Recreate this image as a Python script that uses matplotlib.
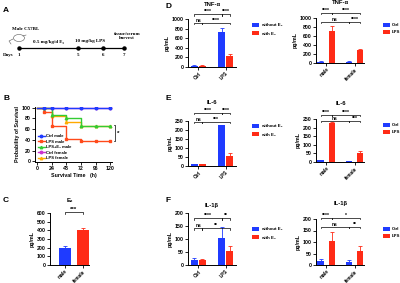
import matplotlib
matplotlib.use('Agg')
import matplotlib.pyplot as plt
import numpy as np
from matplotlib.patches import Ellipse

plt.rcParams['font.family'] = ['Liberation Sans', 'DejaVu Sans']
plt.rcParams['font.weight'] = 'bold'
plt.rcParams['axes.linewidth'] = 0.7

# ---------------- data ----------------
days = [1, 5, 6, 7]
timeline_x = [19, 78, 103, 124]          # layout positions of the day marks (px)

surv_t = [0, 12, 24, 48, 72, 96, 120]
ctrl_male = [100, 100, 100, 100, 100, 100, 100]
lps_male = [100, 92, 65, 42, 38, 38, 38]
lps_e2_male = [100, 100, 87, 80, 65, 65, 65]
ctrl_female = [100, 100, 100, 100, 100, 100, 100]
lps_female = [100, 100, 85, 73, 65, 65, 65]
surv_ticks = [0, 24, 48, 72, 96, 120]

e2_groups = ['male', 'female']
e2_vals = [200, 400]
e2_err = [25, 28]

trt_groups = ['Ctrl', 'LPS']
sex_groups = ['male', 'female']

tnf_wo = [30, 720]; tnf_wo_err = [8, 100]
tnf_w = [30, 230]; tnf_w_err = [8, 40]
tnf_ctrl = [30, 30]; tnf_ctrl_err = [8, 8]
tnf_lps = [720, 280]; tnf_lps_err = [110, 40]

il6_wo = [10, 225]; il6_wo_err = [3, 5]
il6_w = [10, 55]; il6_w_err = [3, 20]
il6_ctrl = [10, 5]; il6_ctrl_err = [3, 2]
il6_lps = [225, 50]; il6_lps_err = [5, 15]

il1_wo = [18, 105]; il1_wo_err = [8, 40]
il1_w = [18, 55]; il1_w_err = [6, 18]
il1_ctrl = [18, 15]; il1_ctrl_err = [8, 8]
il1_lps = [105, 62]; il1_lps_err = [38, 22]

BLUE = '#1f3bff'
RED = '#ff2b16'

W, H = 400, 283
fig = plt.figure(figsize=(4, 2.83), dpi=100)


def px_axes(x0, y0, x1, y1):
    return fig.add_axes([x0 / W, 1 - y1 / H, (x1 - x0) / W, (y1 - y0) / H])


def style(ax):
    for s in ['top', 'right']:
        ax.spines[s].set_visible(False)
    ax.tick_params(labelsize=3.7, length=2, width=0.6, pad=1)
    ax.tick_params(axis='x', labelsize=3.4, pad=0.8)
    for lab in ax.get_xticklabels() + ax.get_yticklabels():
        lab.set_fontweight('bold')


def letter(x, y, s):
    fig.text(x / W, 1 - y / H, s, fontsize=6, fontweight='bold', ha='left', va='center')


def bracket(ax, x1, x2, y, h, txt, fs=3.6):
    ax.plot([x1, x1, x2, x2], [y - h, y, y, y - h], color='black', lw=0.5, clip_on=False)
    ax.text((x1 + x2) / 2, y, txt, ha='center', va='bottom', fontsize=fs, fontweight='bold')


def up_err(ax, x, y, e, col):
    ax.errorbar(x, y, yerr=[np.zeros(len(y)), e], fmt='none', ecolor=col,
                capsize=1.2, elinewidth=0.6, capthick=0.6)


# ---------------- A ----------------
letter(3, 10, 'A')
axA = px_axes(0, 15, 165, 65)
axA.set_xlim(0, 165)
axA.set_ylim(65, 15)
axA.axis('off')
axA.plot([timeline_x[0], timeline_x[-1]], [48, 48], color='black', lw=0.9)
axA.plot(timeline_x, [48] * len(timeline_x), 'o', color='black', ms=2.2)
serif = dict(family=['Liberation Serif', 'DejaVu Serif'], fontweight='bold', fontsize=3.6)
for xp, d in zip(timeline_x, days):
    axA.text(xp, 55, str(d), ha='center', va='center', **serif)
axA.text(3, 55, 'Days', ha='left', va='center', **serif)
axA.text(12, 29, 'Male C57BL', ha='left', va='center', **serif)
axA.add_patch(Ellipse((19, 38), 11, 7, fill=False, lw=0.4, color='#555555'))
axA.plot([13, 9, 11], [39, 41, 44], color='#555555', lw=0.4)
axA.plot([23, 26], [36, 35], color='#555555', lw=0.4)
axA.text(48.5, 42, '0.5 mg/kg/d E₂', ha='center', va='center', **serif)
axA.text(90, 41, '10 mg/kg LPS', ha='center', va='center', **serif)
axA.text(127, 36, 'tissue/serum\nharvest', ha='center', va='center', linespacing=1.1, **serif)

# ---------------- B ----------------
letter(3, 99, 'B')
axB = px_axes(35, 107, 112, 162)
series = [
    ('Ctrl female', ctrl_female, '#cc33cc', 'o'),
    ('LPS female', lps_female, '#ffaa00', '^'),
    ('LPS male', lps_male, '#ff4a1a', 's'),
    ('LPS+E₂ male', lps_e2_male, '#33cc33', '^'),
    ('Ctrl male', ctrl_male, BLUE, 'o'),
]
handles = {}
for name, vals, col, mk in series:
    l, = axB.plot(surv_t, vals, drawstyle='steps-post', color=col, lw=1.0,
                  marker=mk, ms=1.8, markevery=list(range(1, len(surv_t))), label=name)
    handles[name] = l
order = ['Ctrl male', 'LPS male', 'LPS+E₂ male', 'Ctrl female', 'LPS female']
axB.legend([handles[o] for o in order], order, loc='lower left', bbox_to_anchor=(0.0, -0.02),
           fontsize=3.0, frameon=False, handlelength=1.6, labelspacing=0.35, borderpad=0.2,
           handletextpad=0.4)
axB.set_xlim(-3, 123)
axB.set_ylim(-1, 101)
axB.set_xticks(surv_ticks)
axB.set_yticks([0, 20, 40, 60, 80, 100])
axB.set_xlabel('Survival Time   (h)', fontsize=3.8, fontweight='bold', labelpad=1.5)
axB.set_ylabel('Probability of Survival', fontsize=3.8, fontweight='bold', labelpad=1.5)
style(axB)
axB.tick_params(axis='x', labelsize=3.7)
axB.plot([126, 128, 128, 126], [67, 67, 38, 38], color='black', lw=0.5, clip_on=False)
axB.text(131, 52, '*', fontsize=4.5, ha='left', va='center', fontweight='bold')

# ---------------- C ----------------
letter(3, 201, 'C')
axC = px_axes(50, 213, 89, 265)
xc = np.arange(len(e2_groups))
axC.bar(xc, e2_vals, width=0.66, color=[BLUE, RED])
for i, col in enumerate([BLUE, RED]):
    up_err(axC, [xc[i]], [e2_vals[i]], [e2_err[i]], col)
axC.set_xlim(-0.85, 1.35)
axC.set_ylim(0, 600)
axC.set_yticks(range(0, 601, 100))
axC.set_xticks(xc)
axC.set_xticklabels(e2_groups, rotation=45, ha='right', rotation_mode='anchor')
axC.set_ylabel('pg/mL', fontsize=3.8, fontweight='bold', labelpad=1.5)
style(axC)
bracket(axC, 0, 1, 610, 25, '***', fs=4.5)
axC.text(0.25, 740, 'E₂', ha='center', va='center', fontsize=4.2, fontweight='bold')


# ---------------- D/E/F ----------------
def left_panel(box, wo, wo_err, w, w_err, ymax, step, title, fr, labs, leg_y):
    ax = px_axes(*box)
    x = np.arange(2)
    off, bw = 0.15, 0.27
    ax.bar(x - off, wo, width=bw, color=BLUE, label='without E₂')
    ax.bar(x + off, w, width=bw, color=RED, label='with E₂')
    up_err(ax, x - off, wo, wo_err, BLUE)
    up_err(ax, x + off, w, w_err, RED)
    ax.set_xlim(-0.38, 1.38)
    ax.set_ylim(0, ymax)
    ax.set_yticks(np.arange(0, ymax + 1, step))
    ax.set_xticks(x)
    ax.set_xticklabels(trt_groups, rotation=45, ha='right', rotation_mode='anchor')
    ax.set_ylabel('pg/mL', fontsize=3.8, fontweight='bold', labelpad=1.5)
    style(ax)
    top, low, tt = fr
    h = 0.03 * ymax
    bracket(ax, -off, 1 - off, top * ymax, h, labs[0])
    bracket(ax, 1 - off, 1 + off, top * ymax, h, labs[1])
    bracket(ax, -off, off, low * ymax, h, labs[2])
    bracket(ax, off, 1 + off, low * ymax, h, labs[3])
    ax.text(0.5, tt * ymax, title, ha='center', va='center', fontsize=4.2, fontweight='bold')
    ax.legend(loc='upper left', bbox_to_anchor=(250 / W, 1 - leg_y / H), bbox_transform=fig.transFigure,
              fontsize=3.2, frameon=False, handlelength=1.5, handleheight=0.8, labelspacing=0.9,
              borderpad=0, handletextpad=0.5)
    return ax


def right_panel(box, ctrl, ctrl_err, lps, lps_err, ymax, step, title, fr, labs, leg_y):
    ax = px_axes(*box)
    x = np.arange(2)
    off, bw = 0.2, 0.22
    ax.bar(x - off, ctrl, width=bw, color=BLUE, label='Ctrl')
    ax.bar(x + off, lps, width=bw, color=RED, label='LPS')
    up_err(ax, x - off, ctrl, ctrl_err, BLUE)
    up_err(ax, x + off, lps, lps_err, RED)
    ax.set_xlim(-0.36, 1.33)
    ax.set_ylim(0, ymax)
    ax.set_yticks(np.arange(0, ymax + 1, step))
    ax.set_xticks(x)
    ax.set_xticklabels(sex_groups, rotation=45, ha='right', rotation_mode='anchor')
    ax.set_ylabel('pg/mL', fontsize=3.8, fontweight='bold', labelpad=1.5)
    style(ax)
    top, low, tt = fr
    h = 0.03 * ymax
    bracket(ax, -off, off, top * ymax, h, labs[0])
    bracket(ax, off, 1 + off, top * ymax, h, labs[1])
    bracket(ax, -off, 1 - off, low * ymax, h, labs[2])
    bracket(ax, 1 - off, 1 + off, low * ymax, h, labs[3])
    ax.text(0.5, tt * ymax, title, ha='center', va='center', fontsize=4.2, fontweight='bold')
    ax.legend(loc='upper left', bbox_to_anchor=(381 / W, 1 - leg_y / H), bbox_transform=fig.transFigure,
              fontsize=3.2, frameon=False, handlelength=1.5, handleheight=0.8, labelspacing=0.6,
              borderpad=0, handletextpad=0.5)
    return ax


letter(165, 6, 'D')
letter(165, 99, 'E')
letter(165, 201, 'F')

left_panel((188, 19, 236, 67), tnf_wo, tnf_wo_err, tnf_w, tnf_w_err, 1000, 200, 'TNF-α',
           (1.10, 0.92, 1.31), ['****', '****', 'ns', '****'], 21)
right_panel((316, 18, 364, 63), tnf_ctrl, tnf_ctrl_err, tnf_lps, tnf_lps_err, 1000, 200, 'TNF-α',
            (1.11, 0.91, 1.35), ['****', '****', 'ns', '****'], 21)
left_panel((188, 121, 236, 166), il6_wo, il6_wo_err, il6_w, il6_w_err, 250, 50, 'IL-6',
           (1.18, 0.98, 1.40), ['****', '****', 'ns', '***'], 122)
right_panel((316, 119, 364, 162), il6_ctrl, il6_ctrl_err, il6_lps, il6_lps_err, 250, 50, 'IL-6',
            (1.09, 0.95, 1.37), ['****', '****', 'ns', '***'], 121)
left_panel((188, 213, 236, 265), il1_wo, il1_wo_err, il1_w, il1_w_err, 200, 50, 'IL-1β',
           (0.90, 0.71, 1.15), ['****', '**', 'ns', '**'], 225)
right_panel((316, 219, 364, 265), il1_ctrl, il1_ctrl_err, il1_lps, il1_lps_err, 200, 50, 'IL-1β',
            (1.02, 0.83, 1.33), ['****', '*', 'ns', '**'], 225)

fig.savefig('out.png', dpi=100)
